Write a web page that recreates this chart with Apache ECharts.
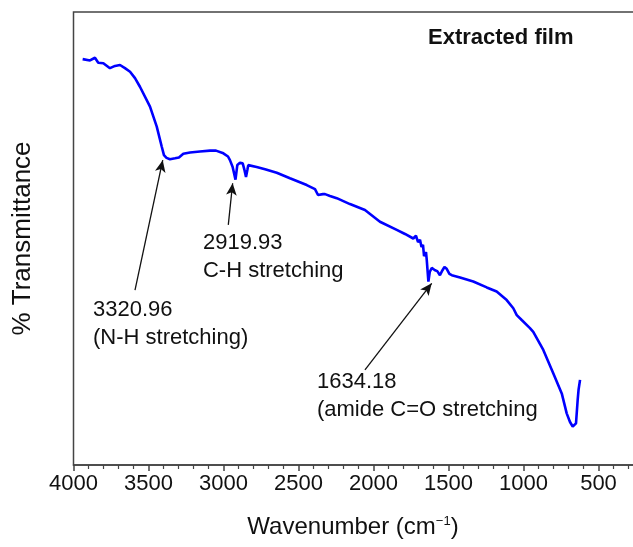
<!DOCTYPE html>
<html>
<head>
<meta charset="utf-8">
<script src="https://cdn.jsdelivr.net/npm/echarts@6/dist/echarts.min.js"></script>
<style>html,body{margin:0;padding:0;background:#fff}#c{width:633px;height:547px}</style>
</head>
<body>
<div id="c"></div>
<script>
// Wavenumber (cm-1) and % transmittance
const wavenumber = [3939,3890,3857,3835,3801,3757,3723,3690,3657,3623,3590,3557,3490,3445,3412,3397,3380,3357,3323,3297,3268,3223,3157,3090,3050,3001,2970,2957,2939,2920,2908,2890,2872,2860,2850,2841,2835,2779,2723,2645,2557,2445,2390,2370,2357,2337,2323,2290,2245,2157,2057,1957,1845,1790,1735,1717,1703,1690,1680,1670,1663,1650,1645,1634,1625,1612,1601,1590,1575,1557,1540,1527,1512,1494,1478,1423,1335,1245,1179,1112,1068,1045,1012,957,935,868,801,745,712,690,672,650,639,633,623];
const transmittance = [89.6,89.3,89.9,88.8,88.7,87.6,88.1,88.3,87.6,86.8,85.4,83.5,79.1,74.7,70.3,68.4,67.8,67.5,67.7,67.9,68.7,69.0,69.2,69.4,69.4,68.8,68.1,67.3,65.8,63.0,66.2,66.7,66.6,65.1,63.6,65.1,66.2,65.8,65.3,64.5,63.3,61.8,60.9,59.6,59.2,59.8,59.8,59.4,58.9,57.6,56.3,53.7,51.9,51.0,50.0,50.6,49.2,49.7,48.1,48.6,46.1,47.0,45.3,40.5,42.6,43.5,43.9,43.0,42.8,41.9,43.0,43.7,43.3,42.2,41.9,41.4,40.5,39.2,38.3,36.4,34.6,33.1,32.0,30.2,29.4,25.4,20.2,15.8,11.4,9.5,8.5,9.2,14.3,16.6,18.8];
const xTicks = [4000,3500,3000,2500,2000,1500,1000,500];

// Annotations (data coordinates)
const annoText = ['3320.96\n(N-H stretching)', '2919.93\nC-H stretching', '1634.18\n(amide C=O stretching'];
const annoTextPos = [[3870,31.1],[3137,45.9],[2377,15.2]];
const arrowTail = [[3590,38.6],[2968,53.0],[2057,21.0]];
const arrowTip = [[3405,67.3],[2939,62.2],[1612,40.1]];

const chart = echarts.init(document.getElementById('c'));
const font = '"Liberation Sans", Arial, sans-serif';
const data = wavenumber.map((w,i)=>[w, transmittance[i]]);
chart.setOption({
  animation: false,
  textStyle: {fontFamily: font},
  title: {
    text: 'Extracted film', left: 428, top: 27, padding: 0,
    textStyle: {fontSize: 22, fontWeight: 'bold', color: '#111', fontFamily: font}
  },
  grid: {left: 73.5, width: 600, top: 12, height: 453, outerBoundsMode: 'none', containLabel: false,
    show: true, borderColor: '#444', borderWidth: 1.5},
  xAxis: {
    type: 'value', inverse: true, min: 0, max: 4000, interval: 500,
    name: 'Wavenumber (cm{sup|−1})', nameLocation: 'middle', nameGap: 50,
    nameTextStyle: {fontSize: 24, color: '#111', fontFamily: font, padding: [0, 41, 0, 0],
      rich: {sup: {fontSize: 13, verticalAlign: 'top', padding: [0,0,12,0], color: '#111', fontFamily: font}}},
    axisLine: {show: true, lineStyle: {color: '#444', width: 1.5}},
    axisTick: {show: true, length: 6, lineStyle: {color: '#444', width: 1.5}},
    minorTick: {show: true, splitNumber: 5, length: 4, lineStyle: {color: '#444', width: 1.2}},
    axisLabel: {fontSize: 22, color: '#111', margin: 8, fontFamily: font,
      formatter: v => xTicks.indexOf(v) >= 0 ? String(v) : ''},
    splitLine: {show: false}
  },
  yAxis: {
    type: 'value', min: 0, max: 100,
    name: '% Transmittance', nameLocation: 'middle', nameGap: 38, nameRotate: 90,
    nameTextStyle: {fontSize: 26, color: '#111', fontFamily: font},
    axisLine: {show: true, lineStyle: {color: '#444', width: 1.5}},
    axisTick: {show: false}, axisLabel: {show: false}, splitLine: {show: false}
  },
  series: [{
    type: 'line', data: data, showSymbol: false, smooth: false,
    lineStyle: {color: '#0000ff', width: 2.6},
    markLine: {
      silent: true, symbol: ['none', 'arrow'], symbolSize: [8, 12],
      label: {show: false},
      lineStyle: {color: '#111', width: 1.3, type: 'solid'},
      data: arrowTail.map((t,i)=>[{coord: t}, {coord: arrowTip[i]}])
    }
  }]
});
const g = annoText.map((t,i)=>{
  const p = chart.convertToPixel({xAxisIndex:0, yAxisIndex:0}, annoTextPos[i]);
  return {type: 'text', x: p[0], y: p[1], silent: true,
    style: {text: t, fontSize: 22, fontFamily: font, fill: '#111', verticalAlign: 'middle', lineHeight: 28}};
});
chart.setOption({graphic: g});
</script>
</body>
</html>
